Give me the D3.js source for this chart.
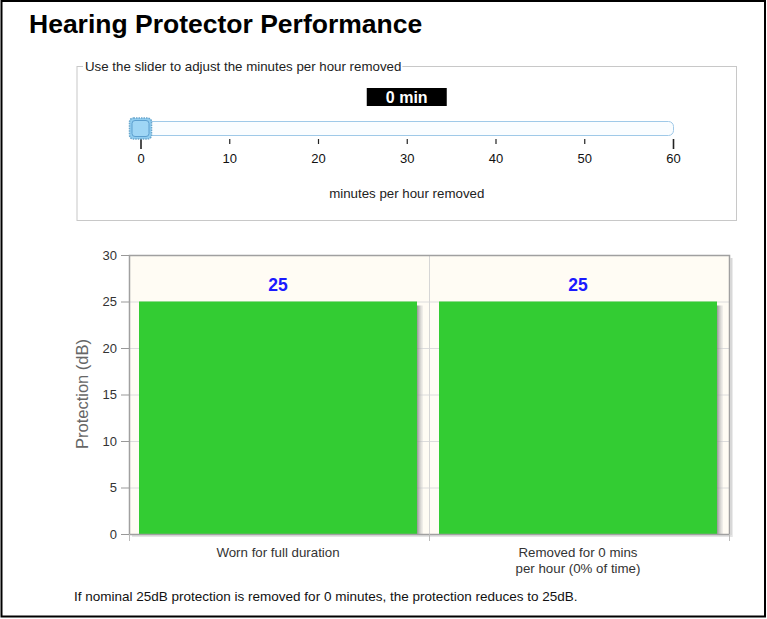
<!DOCTYPE html>
<html>
<head>
<meta charset="utf-8">
<script src="https://cdn.jsdelivr.net/npm/d3@7"></script>
<style>
  body { margin: 0; background: #fff; }
  svg { display: block; font-family: Arial, "Liberation Sans", sans-serif; }
</style>
</head>
<body>
<script>
// data
var categories = ["Worn for full duration", "Removed for 0 mins|per hour (0% of time)"];
var protection = [25, 25];
var yTicks = [0, 5, 10, 15, 20, 25, 30];
var sliderTicks = [0, 10, 20, 30, 40, 50, 60];
var minutesRemoved = 0;
var nominal = 25;

var FONT = "Arial, 'Liberation Sans', sans-serif";
var svg = d3.select("body").append("svg").attr("width", 767).attr("height", 619);

// page frame
svg.append("rect").attr("x", 1.5).attr("y", 1).attr("width", 763.5).attr("height", 615.5)
  .attr("fill", "#fff").attr("stroke", "#000").attr("stroke-width", 2);

svg.append("text").attr("x", 29).attr("y", 33)
  .attr("font-size", 26.5).attr("font-weight", "bold").attr("fill", "#000")
  .text("Hearing Protector Performance");

// ---- slider panel ----
var legendText = "Use the slider to adjust the minutes per hour removed";
svg.append("rect").attr("x", 77).attr("y", 66.5).attr("width", 659.5).attr("height", 154)
  .attr("fill", "none").attr("stroke", "#c8c8c8");
var lgBg = svg.append("rect").attr("y", 60).attr("height", 10).attr("fill", "#fff");
var lg = svg.append("text").attr("x", 85).attr("y", 71).attr("font-size", 13.3).attr("fill", "#222").text(legendText);
lgBg.attr("x", 83).attr("width", lg.node().getComputedTextLength() + 3);

var sx = d3.scaleLinear().domain([0, 60]).range([140.5, 673]);

svg.append("rect").attr("x", sx(30) - 40).attr("y", 88).attr("width", 80).attr("height", 18).attr("fill", "#000");
svg.append("text").attr("x", sx(30)).attr("y", 103).attr("text-anchor", "middle")
  .attr("font-size", 16).attr("font-weight", "bold").attr("fill", "#fff")
  .text(minutesRemoved + " min");

svg.append("rect").attr("x", 130.5).attr("y", 121.5).attr("width", 543).attr("height", 14).attr("rx", 5)
  .attr("fill", "#fafdff").attr("stroke", "#9fc9e8");

var sAxis = svg.append("g").attr("transform", "translate(0,139)")
  .call(d3.axisBottom(sx).tickValues(sliderTicks).tickSize(5).tickPadding(10).tickFormat(d3.format("d")));
sAxis.select(".domain").remove();
sAxis.selectAll("text").attr("font-size", 13).attr("fill", "#111").attr("font-family", FONT);
sAxis.selectAll("line").attr("stroke", "#222").attr("stroke-width", 1.2);
sAxis.selectAll(".tick").filter(function(d) { return d === 0 || d === 60; })
  .select("line").attr("y2", 10).attr("stroke-width", 1.6);

// handle
svg.append("rect").attr("x", sx(minutesRemoved) - 11).attr("y", 118).attr("width", 22).attr("height", 21).attr("rx", 4)
  .attr("fill", "#90cdf0").attr("stroke", "#6aa6cc").attr("stroke-width", 1.5).attr("stroke-dasharray", "1.5,1");
svg.append("rect").attr("x", sx(minutesRemoved) - 8.5).attr("y", 120.5).attr("width", 17).attr("height", 16).attr("rx", 3)
  .attr("fill", "#9fd6f5").attr("stroke", "#5c9fcf");

svg.append("text").attr("x", sx(30)).attr("y", 197.5).attr("text-anchor", "middle")
  .attr("font-size", 13.3).attr("fill", "#222").text("minutes per hour removed");

// ---- bar chart ----
var plot = { left: 129, right: 729, top: 255, bottom: 534 };
var x = d3.scaleBand().domain(categories).range([plot.left, plot.right]);
var y = d3.scaleLinear().domain([0, 30]).range([plot.bottom, plot.top]);

var defs = svg.append("defs");
var grad = defs.append("linearGradient").attr("id", "shade").attr("x1", "0").attr("x2", "1").attr("y1", "0").attr("y2", "0");
grad.append("stop").attr("offset", "0%").attr("stop-color", "#8a8a8a").attr("stop-opacity", 0.9);
grad.append("stop").attr("offset", "100%").attr("stop-color", "#d8d8d8").attr("stop-opacity", 0.3);

svg.append("rect").attr("x", plot.left).attr("y", plot.top)
  .attr("width", plot.right - plot.left).attr("height", plot.bottom - plot.top).attr("fill", "#fffcf4");

// grid
svg.append("g").selectAll("line").data(yTicks.slice(1, -1)).enter().append("line")
  .attr("x1", plot.left).attr("x2", plot.right)
  .attr("y1", function(d) { return y(d) + 0.5; }).attr("y2", function(d) { return y(d) + 0.5; })
  .attr("stroke", "#dcdcdc");
svg.append("line").attr("x1", x(categories[1]) + 0.5).attr("x2", x(categories[1]) + 0.5)
  .attr("y1", plot.top).attr("y2", plot.bottom).attr("stroke", "#d6d6d6");

// bar shadows then bars
var bw = x.bandwidth() - 22;
svg.append("g").selectAll("rect").data(protection).enter().append("rect")
  .attr("x", function(d, i) { return x(categories[i]) + 10 + bw; })
  .attr("y", function(d) { return y(d) + 4; })
  .attr("width", 6)
  .attr("height", function(d) { return plot.bottom - y(d) - 4; })
  .attr("fill", "url(#shade)");
svg.append("g").selectAll("rect").data(protection).enter().append("rect")
  .attr("x", function(d, i) { return x(categories[i]) + 10; })
  .attr("y", function(d) { return y(d); })
  .attr("width", bw)
  .attr("height", function(d) { return plot.bottom - y(d); })
  .attr("fill", "#33cc33");

svg.append("g").selectAll("text").data(protection).enter().append("text")
  .attr("x", function(d, i) { return x(categories[i]) + 10 + bw / 2; })
  .attr("y", function(d) { return y(d) - 11; })
  .attr("text-anchor", "middle").attr("font-size", 17.5).attr("font-weight", "bold").attr("fill", "#1a1aff")
  .text(function(d) { return d; });

// frame of plot
svg.append("line").attr("x1", plot.right + 2.5).attr("x2", plot.right + 2.5).attr("y1", plot.top + 3).attr("y2", plot.bottom + 3)
  .attr("stroke", "#d8d8d8").attr("stroke-width", 2);
svg.append("line").attr("x1", plot.left + 3).attr("x2", plot.right + 3).attr("y1", plot.bottom + 2).attr("y2", plot.bottom + 2)
  .attr("stroke", "#e4e4e4").attr("stroke-width", 2);
svg.append("rect").attr("x", plot.left + 0.5).attr("y", plot.top + 0.5)
  .attr("width", plot.right - plot.left).attr("height", plot.bottom - plot.top)
  .attr("fill", "none").attr("stroke", "#a0a0a0").attr("stroke-width", 1.5);

var yAxis = svg.append("g").attr("transform", "translate(" + plot.left + ",0)")
  .call(d3.axisLeft(y).tickValues(yTicks).tickSize(8).tickPadding(4));
yAxis.select(".domain").remove();
yAxis.selectAll("line").attr("stroke", "#999");
yAxis.selectAll("text").attr("font-size", 13).attr("fill", "#333").attr("font-family", FONT);

var xAxis = svg.append("g").attr("transform", "translate(0," + plot.bottom + ")")
  .call(d3.axisBottom(x).tickValues([]).tickSize(0));
xAxis.select(".domain").remove();
xAxis.selectAll(".bound").data([plot.left, x(categories[1]), plot.right]).enter().append("line")
  .attr("x1", function(d) { return d + 0.5; }).attr("x2", function(d) { return d + 0.5; })
  .attr("y1", 0).attr("y2", 7).attr("stroke", "#bbb");

var labels = svg.append("g").selectAll("text").data(categories).enter().append("text")
  .attr("x", function(d) { return x(d) + 10 + bw / 2; })
  .attr("y", 557)
  .attr("text-anchor", "middle").attr("font-size", 13.3).attr("fill", "#333");
labels.selectAll("tspan").data(function(d) { return d.split("|"); }).enter().append("tspan")
  .attr("x", function() { return d3.select(this.parentNode).attr("x"); })
  .attr("dy", function(d, i) { return i ? 16 : 0; })
  .text(function(d) { return d; });

svg.append("text").attr("transform", "translate(88,394) rotate(-90)")
  .attr("text-anchor", "middle").attr("font-size", 16.5).attr("fill", "#666")
  .text("Protection (dB)");

svg.append("text").attr("x", 74).attr("y", 601).attr("font-size", 13.5).attr("fill", "#111")
  .text("If nominal " + nominal + "dB protection is removed for " + minutesRemoved +
        " minutes, the protection reduces to " + protection[1] + "dB.");
</script>
</body>
</html>
